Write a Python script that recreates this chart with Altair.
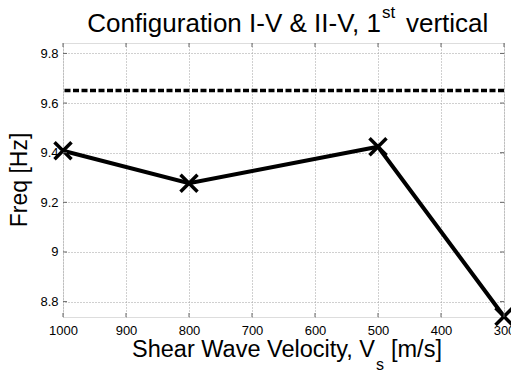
import altair as alt
import pandas as pd

# data
velocities = [1000, 800, 500, 300]
freqs = [9.408, 9.277, 9.424, 8.740]
ref_freq = [9.651]
x_ticks = [1000, 900, 800, 700, 600, 500, 400, 300]
y_ticks = [8.8, 9.0, 9.2, 9.4, 9.6, 9.8]
y_domain = [8.738, 9.842]
x_domain = [300, 1000]

FONT = "Liberation Sans"

df = pd.DataFrame({"v": velocities, "f": freqs})
ref = pd.DataFrame({"f": ref_freq})

xscale = alt.Scale(domain=x_domain, reverse=True, nice=False, zero=False)
yscale = alt.Scale(domain=y_domain, nice=False, zero=False)

xaxis = alt.Axis(values=x_ticks, title=None, grid=True, ticks=False, domain=False,
                 labelFontSize=13, labelFont=FONT, labelColor="#000", labelPadding=7,
                 format="d", gridDash=[1, 2], gridColor="#a0a0a0", gridOpacity=1,
                 labelFlush=False, labelOverlap=False)
yaxis = alt.Axis(values=y_ticks, title=None, grid=True, ticks=False, domain=False,
                 labelFontSize=13, labelFont=FONT, labelColor="#000", labelPadding=5,
                 labelExpr="datum.value == 9 ? '9' : format(datum.value, '.1f')",
                 gridDash=[1, 2], gridColor="#a0a0a0", gridOpacity=1)

line = alt.Chart(df).mark_line(color="black", strokeWidth=4).encode(
    x=alt.X("v:Q", scale=xscale, axis=xaxis),
    y=alt.Y("f:Q", scale=yscale, axis=yaxis),
)
pts = alt.Chart(df).mark_point(shape="M-1,-1L1,1M-1,1L1,-1", size=289, color="black",
                               strokeWidth=3.5, filled=False, opacity=1).encode(
    x=alt.X("v:Q", scale=xscale),
    y=alt.Y("f:Q", scale=yscale),
)
dash = alt.Chart(ref).mark_rule(color="black", strokeWidth=3.5, strokeDash=[6, 2.5]).encode(
    y=alt.Y("f:Q", scale=yscale),
)

# inward ticks (MATLAB style)
xt = pd.DataFrame({"v": x_ticks})
yt = pd.DataFrame({"f": y_ticks})
tb = alt.Chart(xt).mark_rule(color="#666", strokeWidth=1).encode(
    x=alt.X("v:Q", scale=xscale), y=alt.value(274), y2=alt.value(270))
tt = alt.Chart(xt).mark_rule(color="#666", strokeWidth=1).encode(
    x=alt.X("v:Q", scale=xscale), y=alt.value(0), y2=alt.value(4))
tl = alt.Chart(yt).mark_rule(color="#666", strokeWidth=1).encode(
    y=alt.Y("f:Q", scale=yscale), x=alt.value(0), x2=alt.value(4))
tr = alt.Chart(yt).mark_rule(color="#666", strokeWidth=1).encode(
    y=alt.Y("f:Q", scale=yscale), x=alt.value(441), x2=alt.value(437))


def txt(s, x, y, size, align="left", angle=0):
    kw = dict(align=align, baseline="alphabetic", fontSize=size, font=FONT, color="black")
    if angle:
        kw["angle"] = angle
    return alt.Chart(pd.DataFrame({"t": [s]})).mark_text(**kw).encode(
        text="t:N", x=alt.value(x), y=alt.value(y))


title1 = txt("Configuration I-V & II-V, 1", 318, -11, 26, align="right")
title2 = txt("st", 319, -25, 17)
title3 = txt("vertical", 343, -11, 26)
xl1 = txt("Shear Wave Velocity, V", 312, 314, 23.5, align="right")
xl2 = txt("s", 313, 327, 16)
xl3 = txt("[m/s]", 328, 314, 23.5)
yl = txt("Freq [Hz]", -36, 137, 23, align="center", angle=270)

chart = alt.layer(
    line, dash, pts, tb, tt, tl, tr, title1, title2, title3, xl1, xl2, xl3, yl
).properties(
    width=441, height=274,
    padding={"left": 63, "top": 43, "right": 7, "bottom": 55},
    autosize=alt.AutoSizeParams(type="none"),
).configure_view(stroke="#7a7a7a", strokeWidth=1).configure(background="white")

chart.save("out.html", embed_options={"renderer": "svg", "actions": False})
